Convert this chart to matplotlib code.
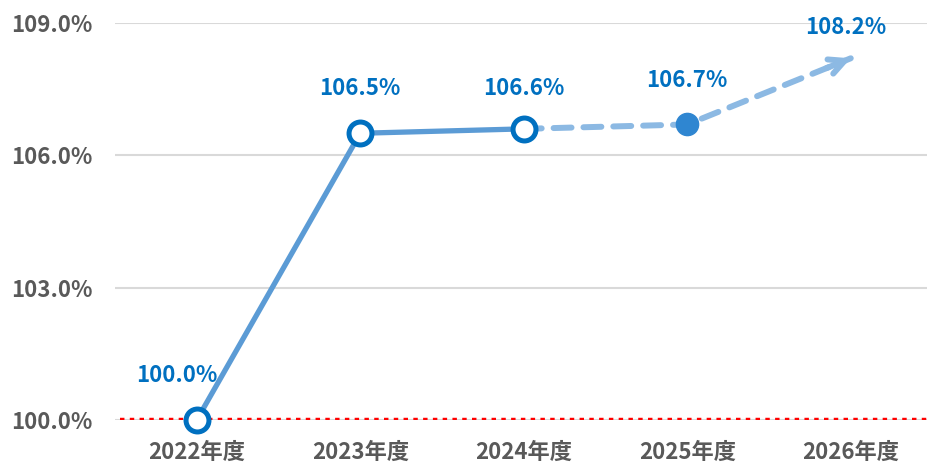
import matplotlib
matplotlib.use("Agg")
import matplotlib.pyplot as plt

plt.rcParams['font.family'] = ['Noto Sans CJK JP', 'DejaVu Sans']

categories = ["2022年度", "2023年度", "2024年度", "2025年度", "2026年度"]
actual_vals = [100.0, 106.5, 106.6]
forecast_vals = [106.6, 106.7, 108.2]
labels = ["100.0%", "106.5%", "106.6%", "106.7%", "108.2%"]
yticks = [100, 103, 106, 109]
ytick_labels = ["100.0%", "103.0%", "106.0%", "109.0%"]

fig = plt.figure(figsize=(9.28, 4.65), dpi=100)
ax = fig.add_axes([115/928, 45/465, 813/928, 397/465])
ax.set_xlim(-0.5, -0.5 + 813/163.5)
ax.set_ylim(100, 109)

for s in ax.spines.values():
    s.set_visible(False)
ax.set_yticks(yticks)
ax.set_yticklabels(ytick_labels)
ax.set_xticks(range(len(categories)))
ax.set_xticklabels(categories)
ax.tick_params(axis='both', length=0, labelsize=16, labelcolor='#595959')
ax.tick_params(axis='y', pad=16)
ax.tick_params(axis='x', pad=15)
for t in ax.get_xticklabels() + ax.get_yticklabels():
    t.set_fontweight('bold')
ax.grid(axis='y', color='#D9D9D9', linewidth=1.5)
ax.set_axisbelow(True)

# red baseline
ax.axhline(100, xmin=5/813, xmax=1, color='red', linestyle=(0, (1, 1.2)), linewidth=3.2, zorder=2)

xa = list(range(len(actual_vals)))
xf = list(range(2, 2 + len(forecast_vals)))

light = '#8CB9E3'
# forecast dashed line (to arrow tip)
ax.plot(xf, forecast_vals, color=light, linewidth=4.3,
        linestyle=(0, (3.0, 2.0)), solid_capstyle='round', dash_capstyle='round', zorder=3)
ax.annotate('', xy=(xf[-1], forecast_vals[-1]),
            xytext=(xf[-2] + 0.85, forecast_vals[-2] + 0.85*(forecast_vals[-1]-forecast_vals[-2])),
            arrowprops=dict(arrowstyle='->,head_length=1.1,head_width=0.55', color=light,
                            lw=4.3, capstyle='round', joinstyle='round', shrinkA=0, shrinkB=0), zorder=3)

# actual solid line
ax.plot(xa, actual_vals, color='#5B9BD5', linewidth=3.8, zorder=4, solid_capstyle='round')
ax.plot(xa, actual_vals, linestyle='none', marker='o', markersize=16.5, markerfacecolor='white',
        markeredgecolor='#0070C0', markeredgewidth=3.6, zorder=5, clip_on=False)
# forecast point
ax.plot([xf[1]], [forecast_vals[1]], linestyle='none', marker='o', markersize=16,
        markerfacecolor='#2F86D1', markeredgecolor='#2F86D1', zorder=5)

label_pos = [(0 - 0.12, 101.0), (1, 107.52), (2, 107.52), (3, 107.7), (3.97, 108.9)]
for (x, y), lab in zip(label_pos, labels):
    ax.text(x, y, lab, ha='center', va='center', fontsize=16, fontweight='bold', color='#0070C0', zorder=6)

fig.savefig('out.png', dpi=100)
